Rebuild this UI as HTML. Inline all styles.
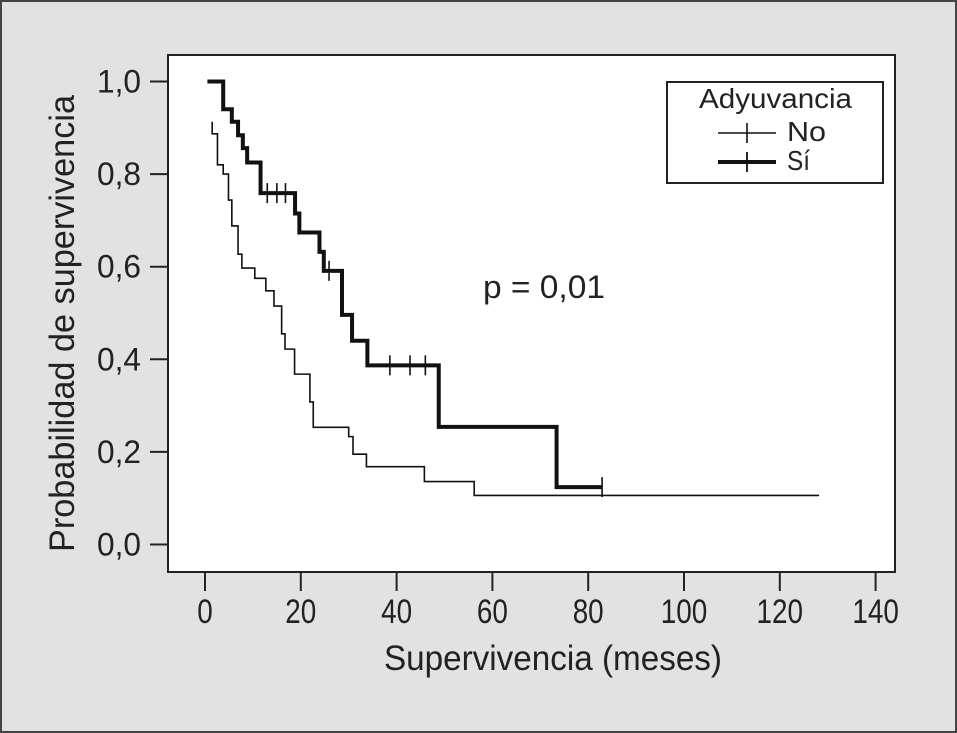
<!DOCTYPE html>
<html><head><meta charset="utf-8"><style>
html,body{margin:0;padding:0;background:#e2e2e2}
svg{display:block}
text{font-family:"Liberation Sans",sans-serif;fill:#222}
</style></head><body>
<svg width="957" height="733" viewBox="0 0 957 733">
<rect x="1" y="1" width="955" height="731" fill="#e2e2e2" stroke="#444" stroke-width="2"/>
<rect x="168" y="55" width="727" height="517" fill="#fff" stroke="#222" stroke-width="2"/>
<g id="axes"></g>
<g id="series"></g>
<text x="483" y="298" font-size="32" textLength="122" lengthAdjust="spacingAndGlyphs">p = 0,01</text>
<text x="384" y="670" font-size="35" textLength="338" lengthAdjust="spacingAndGlyphs">Supervivencia (meses)</text>
<text transform="translate(74,552) rotate(-90)" font-size="35" textLength="457" lengthAdjust="spacingAndGlyphs">Probabilidad de supervivencia</text>
<g>
<rect x="667" y="82" width="216" height="101" fill="#fff" stroke="#222" stroke-width="2"/>
<text x="699" y="108" font-size="28" textLength="153" lengthAdjust="spacingAndGlyphs">Adyuvancia</text>
<g>
<line x1="718" y1="133" x2="776" y2="133" stroke="#111" stroke-width="1.6"/>
<line x1="747" y1="123" x2="747" y2="143" stroke="#111" stroke-width="1.6"/>
<text x="787" y="141" font-size="28" textLength="39" lengthAdjust="spacingAndGlyphs">No</text></g>
<g>
<line x1="718" y1="162" x2="776" y2="162" stroke="#111" stroke-width="4"/>
<line x1="747" y1="152" x2="747" y2="172" stroke="#111" stroke-width="1.8"/>
<text x="787" y="170" font-size="28" textLength="23" lengthAdjust="spacingAndGlyphs">Sí</text></g>
</g>
</svg>
<script>
const xTicks=[0,20,40,60,80,100,120,140];
const yTicks=[0,0.2,0.4,0.6,0.8,1.0];
const yTickLabels=["0,0","0,2","0,4","0,6","0,8","1,0"];
const siStart=0.5, siStartS=1.0;
const siTimes=[3.8,5.6,6.9,7.9,8.8,11.6,18.8,19.7,23.9,24.8,28.6,30.7,33.9,48.8,73.4];
const siSurv=[0.94,0.913,0.884,0.856,0.825,0.759,0.715,0.674,0.632,0.591,0.496,0.44,0.387,0.254,0.124];
const siCensor=[13.0,15.0,16.8,25.9,38.6,42.8,46.0,82.9];
const siEnd=82.9;
const noStart=1.5, noStartS=0.913;
const noTimes=[1.5,2.6,3.8,4.9,5.6,6.9,7.7,10.4,12.7,14.4,16.0,16.7,18.7,21.9,22.6,30.0,30.9,33.7,45.8,56.2];
const noSurv=[0.887,0.82,0.80,0.744,0.688,0.627,0.597,0.575,0.548,0.515,0.455,0.422,0.368,0.308,0.253,0.233,0.195,0.168,0.136,0.106];
const noEnd=128.2;

const NS="http://www.w3.org/2000/svg";
const X=t=>205+t*4.79, Y=s=>544.5-s*463;
function mk(tag,attrs,parent){const e=document.createElementNS(NS,tag);for(const k in attrs)e.setAttribute(k,attrs[k]);parent.appendChild(e);return e;}
const ax=document.getElementById('axes');
xTicks.forEach(t=>{
  const l=mk('line',{x1:X(t),x2:X(t),y1:572,y2:591,stroke:'#222','stroke-width':2},ax);
  
  
  const s=String(t);
  const tx=mk('text',{x:X(t),y:623,'font-size':34,'text-anchor':'middle',textLength:s.length*15.5,lengthAdjust:'spacingAndGlyphs'},ax);
  tx.textContent=s;
  
  
});
yTicks.forEach((v,i)=>{
  const l=mk('line',{x1:150,x2:168,y1:Y(v),y2:Y(v),stroke:'#222','stroke-width':2},ax);
  
  
  const tx=mk('text',{x:141,y:Y(v)+11,'font-size':32,'text-anchor':'end',textLength:44,lengthAdjust:'spacingAndGlyphs'},ax);
  tx.textContent=yTickLabels[i];
  
  
});
function stepPath(t0,s0,times,surv,end){
  let d=`M${X(t0)},${Y(s0)}`;
  times.forEach((t,i)=>{d+=` H${X(t)} V${Y(surv[i])}`;});
  d+=` H${X(end)}`;return d;
}
function survAt(t,s0,times,surv){let s=s0;times.forEach((tt,i)=>{if(tt<=t)s=surv[i];});return s;}
const g=document.getElementById('series');
const pNo=mk('path',{d:stepPath(noStart,noStartS,noTimes,noSurv,noEnd),fill:'none',stroke:'#111','stroke-width':1.6},g);


const pSi=mk('path',{d:stepPath(siStart,siStartS,siTimes,siSurv,siEnd),fill:'none',stroke:'#111','stroke-width':4},g);


siCensor.forEach(t=>{
  const y=Y(survAt(t,siStartS,siTimes,siSurv));
  const c=mk('line',{x1:X(t),x2:X(t),y1:y-10,y2:y+10,stroke:'#111','stroke-width':1.6},g);
  
  
});
</script>
</body></html>
